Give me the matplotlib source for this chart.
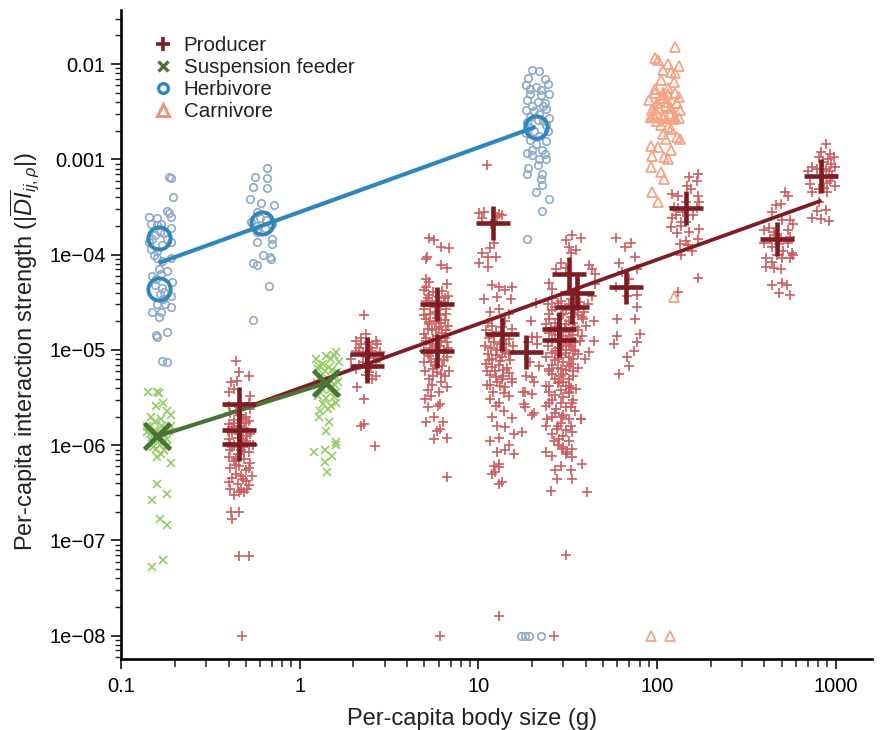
import matplotlib
matplotlib.use('Agg')
from matplotlib import pyplot as plt
from matplotlib.ticker import LogLocator, NullFormatter
from matplotlib.lines import Line2D

plt.rcParams['font.family'] = ['Liberation Sans', 'DejaVu Sans']
plt.rcParams['mathtext.fontset'] = 'custom'
plt.rcParams['mathtext.rm'] = 'Liberation Sans'
plt.rcParams['mathtext.it'] = 'Liberation Sans:italic'

# ---- данные: (масса тела, сила взаимодействия) ----
herb_pts = [
    # x ~ 0.17
    (0.185, 6.5e-4), (0.19, 6.4e-4), (0.196, 4.0e-4), (0.143, 2.5e-4), (0.18, 2.9e-4), (0.185, 2.75e-4),
    (0.19, 2.5e-4), (0.147, 2.1e-4), (0.159, 2.05e-4), (0.167, 2.1e-4), (0.19, 1.9e-4), (0.149, 1.45e-4),
    (0.143, 1.35e-4), (0.18, 1.45e-4), (0.19, 1.35e-4), (0.147, 1.15e-4), (0.153, 1.0e-4), (0.159, 9.3e-5),
    (0.19, 9.3e-5), (0.163, 7.0e-5), (0.167, 6.2e-5), (0.157, 5.5e-5), (0.192, 5.2e-5), (0.173, 4.1e-5),
    (0.19, 3.65e-5), (0.159, 3.0e-5), (0.176, 3.0e-5), (0.19, 2.8e-5), (0.149, 2.5e-5), (0.167, 2.5e-5),
    (0.163, 2.2e-5), (0.159, 1.38e-5), (0.157, 1.45e-5), (0.18, 1.55e-5), (0.169, 7.7e-6), (0.182, 7.5e-6),
    (0.155, 1.6e-4), (0.17, 1.25e-4), (0.165, 1.75e-4), (0.16, 1.1e-4), (0.17, 8.5e-5), (0.155, 4.8e-5),
    (0.17, 4.5e-5), (0.165, 3.9e-5), (0.18, 6.7e-5), (0.15, 6.0e-5), (0.175, 1.7e-4), (0.16, 2.4e-4),
    (0.172, 3.4e-5),
    # x ~ 0.6
    (0.66, 8.2e-4), (0.56, 6.5e-4), (0.66, 6.4e-4), (0.55, 5.1e-4), (0.66, 5.0e-4), (0.53, 3.8e-4),
    (0.61, 3.5e-4), (0.72, 3.3e-4), (0.58, 2.8e-4), (0.535, 2.2e-4), (0.70, 2.1e-4), (0.58, 1.74e-4),
    (0.58, 1.35e-4), (0.70, 1.45e-4), (0.70, 1.3e-4), (0.625, 1.0e-4), (0.68, 9.5e-5), (0.69, 8.9e-5),
    (0.55, 8.2e-5), (0.58, 7.8e-5), (0.67, 4.7e-5), (0.55, 2.05e-5), (0.6, 2.4e-4), (0.64, 1.9e-4),
    (0.57, 2.0e-4), (0.65, 2.3e-4),
    # x ~ 20
    (20.1, 8.6e-3), (22.0, 8.5e-3), (19.0, 7.2e-3), (23.5, 7.0e-3), (18.5, 6.0e-3), (21.0, 5.8e-3),
    (24.5, 6.2e-3), (19.5, 4.9e-3), (22.5, 4.7e-3), (25.0, 4.8e-3), (18.8, 4.2e-3), (21.5, 4.0e-3),
    (23.5, 3.9e-3), (20.0, 3.6e-3), (24.0, 3.4e-3), (18.5, 3.3e-3), (22.0, 3.0e-3), (19.5, 2.8e-3),
    (25.0, 2.7e-3), (18.8, 2.45e-3), (23.0, 2.5e-3), (20.5, 2.0e-3), (24.5, 2.0e-3), (18.5, 1.9e-3),
    (22.0, 1.75e-3), (19.5, 1.6e-3), (24.0, 1.55e-3), (21.0, 1.45e-3), (18.8, 1.18e-3), (20.1, 1.27e-3),
    (22.8, 1.27e-3), (24.0, 1.0e-3), (22.0, 1.0e-3), (18.9, 8.2e-4), (18.8, 7.0e-4), (22.8, 7.0e-4),
    (22.5, 6.2e-4), (22.8, 5.4e-4), (21.1, 4.6e-4), (25.0, 3.8e-4), (22.8, 2.9e-4), (18.8, 1.45e-4),
    (20.5, 3.2e-3), (23.0, 3.6e-3), (19.2, 2.2e-3), (21.5, 2.6e-3), (23.8, 2.3e-3), (20.0, 1.1e-3),
    (21.5, 8.8e-4), (23.5, 1.15e-3), (19.5, 5.5e-3), (22.5, 5.3e-3),
    (17.4, 1e-8), (18.3, 1e-8), (19.3, 1e-8), (22.5, 1e-8),
]

susp_pts = [
    # x ~ 0.16
    (0.141, 3.6e-6), (0.159, 3.6e-6), (0.163, 3.5e-6), (0.172, 2.8e-6), (0.157, 2.55e-6), (0.18, 2.27e-6),
    (0.19, 2.1e-6), (0.147, 2.0e-6), (0.167, 1.87e-6), (0.143, 1.55e-6), (0.19, 1.58e-6), (0.139, 1.37e-6),
    (0.149, 1.21e-6), (0.172, 1.07e-6), (0.18, 0.98e-6), (0.157, 0.91e-6), (0.167, 0.8e-6), (0.19, 0.65e-6),
    (0.159, 0.39e-6), (0.18, 0.31e-6), (0.149, 0.265e-6), (0.165, 0.167e-6), (0.18, 0.145e-6),
    (0.149, 5.3e-8), (0.171, 6.3e-8),
    (0.145, 1.3e-6), (0.155, 1.45e-6), (0.165, 1.35e-6), (0.175, 1.3e-6), (0.15, 1.1e-6), (0.16, 1.15e-6),
    (0.17, 1.2e-6), (0.18, 1.15e-6), (0.152, 0.95e-6), (0.165, 1.0e-6), (0.175, 0.9e-6), (0.16, 0.75e-6),
    (0.14, 1.6e-6), (0.185, 1.4e-6), (0.17, 1.6e-6), (0.155, 1.75e-6),
    # x ~ 1.4
    (1.24, 8.0e-6), (1.41, 8.6e-6), (1.6, 9.5e-6), (1.5, 8.0e-6), (1.29, 6.8e-6), (1.46, 6.6e-6),
    (1.66, 7.5e-6), (1.55, 8.8e-6), (1.35, 7.2e-6), (1.26, 6.3e-6), (1.38, 6.0e-6), (1.52, 6.2e-6),
    (1.62, 5.8e-6), (1.3, 5.2e-6), (1.45, 5.0e-6), (1.58, 5.3e-6), (1.25, 4.5e-6), (1.55, 4.4e-6),
    (1.65, 4.6e-6), (1.33, 3.9e-6), (1.48, 3.8e-6), (1.6, 3.6e-6), (1.27, 3.3e-6), (1.4, 3.1e-6),
    (1.55, 3.2e-6), (1.35, 2.7e-6), (1.5, 2.6e-6), (1.45, 2.4e-6), (1.3, 2.3e-6), (1.6, 2.8e-6),
    (1.29, 2.0e-6), (1.46, 1.74e-6), (1.41, 1.4e-6), (1.6, 1.07e-6), (1.2, 0.84e-6), (1.38, 0.9e-6),
    (1.52, 0.77e-6), (1.6, 1.0e-6), (1.38, 0.66e-6), (1.43, 0.52e-6),
]

prod_pts = [
    # x ~ 0.45
    (0.44, 7.6e-6), (0.458, 5.8e-6), (0.52, 5.3e-6), (0.415, 4.6e-6), (0.445, 4.7e-6), (0.40, 3.6e-6),
    (0.43, 3.9e-6), (0.53, 3.3e-6), (0.52, 2.8e-6), (0.40, 2.6e-6), (0.53, 2.4e-6), (0.41, 2.2e-6),
    (0.47, 2.1e-6), (0.5, 2.0e-6), (0.43, 1.85e-6), (0.52, 1.8e-6), (0.4, 1.65e-6), (0.46, 1.6e-6),
    (0.49, 1.5e-6), (0.42, 1.35e-6), (0.53, 1.3e-6), (0.45, 1.2e-6), (0.4, 1.15e-6), (0.5, 1.1e-6),
    (0.43, 1.0e-6), (0.48, 0.95e-6), (0.41, 0.88e-6), (0.52, 0.85e-6), (0.45, 0.8e-6), (0.4, 0.75e-6),
    (0.49, 0.72e-6), (0.43, 0.68e-6), (0.53, 0.65e-6), (0.46, 0.6e-6), (0.41, 0.57e-6), (0.5, 0.55e-6),
    (0.44, 0.5e-6), (0.54, 0.48e-6), (0.42, 0.45e-6), (0.48, 0.44e-6), (0.40, 0.41e-6), (0.45, 0.39e-6),
    (0.52, 0.38e-6), (0.41, 0.35e-6), (0.47, 0.34e-6), (0.51, 0.35e-6), (0.46, 0.32e-6), (0.49, 0.32e-6),
    (0.415, 0.2e-6), (0.458, 0.2e-6), (0.42, 0.17e-6), (0.46, 6.8e-8), (0.52, 6.8e-8), (0.475, 1e-8),
    (0.44, 2.3e-6), (0.48, 1.9e-6), (0.42, 1.55e-6), (0.51, 1.25e-6), (0.47, 0.9e-6), (0.44, 0.62e-6),
    (0.5, 0.42e-6), (0.455, 2.5e-6), (0.395, 1.4e-6), (0.55, 1.0e-6), (0.47, 0.47e-6), (0.43, 0.3e-6),
    (0.43, 1.7e-6), (0.5, 1.7e-6), (0.46, 1.3e-6), (0.41, 1.05e-6), (0.49, 0.85e-6), (0.44, 0.72e-6),
    (0.52, 0.58e-6), (0.45, 1.45e-6), (0.48, 1.15e-6), (0.42, 0.95e-6),
    # x ~ 2.3
    (2.3, 2.33e-5), (2.36, 1.47e-5), (2.68, 1.24e-5), (2.07, 1.24e-5), (2.21, 1.15e-5), (2.45, 1.2e-5),
    (2.72, 1.15e-5), (2.07, 9.7e-6), (2.25, 9.6e-6), (2.55, 9.7e-6), (2.8, 9.6e-6), (1.95, 8.0e-6),
    (2.25, 7.5e-6), (2.68, 7.5e-6), (2.07, 6.3e-6), (2.45, 5.9e-6), (2.68, 5.3e-6), (2.55, 5.0e-6),
    (2.1, 4.1e-6), (2.3, 3.05e-6), (2.21, 1.58e-6), (2.3, 1.66e-6), (2.65, 0.98e-6), (2.15, 1.05e-5),
    (2.5, 1.05e-5), (2.35, 8.5e-6), (2.6, 8.2e-6), (2.15, 7.0e-6), (2.5, 6.8e-6), (2.35, 5.5e-6),
    (2.2, 1.35e-5),
    # x ~ 6
    (5.3, 1.5e-4), (5.67, 1.44e-4), (6.2, 1.2e-4), (6.88, 1.18e-4), (5.18, 9.5e-5), (5.1, 8.9e-5),
    (6.2, 7.85e-5), (6.7, 7.3e-5), (5.1, 5.5e-5), (5.3, 5.2e-5), (6.7, 4.9e-5), (5.1, 4.6e-5),
    (5.0, 4.3e-5), (5.6, 4.1e-5), (6.3, 4.2e-5), (5.3, 3.8e-5), (6.0, 3.6e-5), (6.8, 3.7e-5),
    (5.1, 3.3e-5), (5.5, 3.1e-5), (6.4, 3.2e-5), (5.8, 2.8e-5), (5.0, 2.7e-5), (6.6, 2.7e-5),
    (5.4, 2.4e-5), (6.1, 2.3e-5), (5.1, 2.1e-5), (5.7, 2.0e-5), (6.5, 2.05e-5), (5.3, 1.85e-5),
    (6.0, 1.75e-5), (6.8, 1.8e-5), (5.5, 1.6e-5), (4.95, 1.47e-5), (5.2, 1.66e-5), (6.3, 1.5e-5),
    (5.1, 1.24e-5), (6.65, 1.2e-5), (5.8, 1.1e-5), (5.3, 8.6e-6), (6.65, 8.4e-6), (5.45, 7.5e-6),
    (6.0, 9.5e-6), (5.05, 6.0e-6), (5.85, 5.9e-6), (6.9, 6.0e-6), (5.3, 5.0e-6), (6.2, 4.6e-6),
    (5.6, 5.3e-6), (6.5, 5.3e-6), (5.05, 3.05e-6), (5.45, 3.3e-6), (6.65, 4.1e-6), (5.2, 2.5e-6),
    (5.95, 2.6e-6), (6.1, 2.7e-6), (5.67, 2.0e-6), (6.35, 1.74e-6), (5.1, 1.74e-6), (5.85, 1.4e-6),
    (6.1, 1.47e-6), (5.67, 1.15e-6), (6.7, 1.2e-6), (6.65, 0.46e-6), (6.1, 1e-8),
    (5.6, 1.3e-5), (6.2, 1.25e-5), (5.4, 1.05e-5), (6.4, 1.0e-5), (5.0, 9.8e-6), (6.8, 1.05e-5),
    (5.7, 7.0e-6), (6.3, 6.8e-6), (5.2, 3.8e-6), (6.0, 3.6e-6), (5.5, 4.3e-6),
    (5.2, 3.5e-5), (5.9, 3.3e-5), (6.5, 3.5e-5), (5.4, 2.9e-5), (6.2, 2.9e-5), (5.7, 2.5e-5),
    (6.6, 2.4e-5), (5.0, 2.3e-5), (5.9, 2.15e-5), (5.3, 1.95e-5), (6.2, 1.9e-5), (5.8, 1.65e-5),
    (6.6, 1.6e-5), (5.1, 1.35e-5), (5.9, 1.4e-5), (6.5, 1.35e-5), (5.5, 1.15e-5), (6.1, 1.1e-5),
    (5.2, 9.0e-6), (5.9, 8.0e-6), (6.4, 7.8e-6), (5.0, 7.5e-6), (5.6, 6.3e-6), (6.2, 5.6e-6),
    # x ~ 12
    (11.2, 8.7e-4), (10.1, 2.75e-4), (10.8, 2.8e-4), (13.1, 2.7e-4), (13.6, 2.6e-4), (10.5, 2.45e-4),
    (12.8, 2.5e-4), (11.8, 2.1e-4), (12.3, 1.34e-4), (11.7, 1.18e-4), (10.5, 1.05e-4), (11.4, 9.5e-5),
    (12.6, 9.5e-5), (10.1, 8.2e-5), (11.4, 7.4e-5),
    (12.0, 4.8e-5), (13.1, 4.6e-5), (15.4, 4.6e-5), (14.2, 4.3e-5), (10.8, 3.4e-5), (12.8, 3.6e-5),
    (15.2, 3.4e-5), (11.7, 2.5e-5), (13.1, 2.7e-5), (14.8, 2.4e-5), (12.0, 1.8e-5), (14.2, 2.0e-5),
    (15.4, 1.66e-5), (11.0, 1.6e-5), (12.5, 1.55e-5), (13.8, 1.45e-5), (11.5, 1.35e-5), (14.8, 1.3e-5),
    (12.2, 1.2e-5), (13.3, 1.15e-5), (10.9, 1.1e-5), (15.6, 1.1e-5), (12.8, 1.0e-5), (14.2, 9.5e-6),
    (11.4, 9.0e-6), (13.5, 8.5e-6), (12.0, 8.0e-6), (15.0, 7.8e-6), (11.0, 7.2e-6), (13.0, 7.0e-6),
    (14.5, 6.5e-6), (12.4, 6.0e-6), (11.6, 5.5e-6), (13.8, 5.3e-6), (15.5, 5.0e-6), (12.8, 4.6e-6),
    (11.2, 4.3e-6), (14.2, 4.1e-6), (11.7, 4.3e-6), (13.6, 5.0e-6), (15.4, 4.6e-6), (11.7, 3.05e-6),
    (13.1, 2.8e-6), (14.8, 3.3e-6), (12.0, 2.0e-6), (15.4, 1.95e-6), (12.7, 1.6e-6), (14.2, 1.55e-6),
    (11.7, 1.1e-6), (13.1, 1.2e-6), (14.8, 1.0e-6), (15.8, 1.3e-6), (12.7, 0.84e-6), (14.2, 0.9e-6),
    (15.8, 0.8e-6), (12.3, 0.6e-6), (13.1, 0.63e-6), (13.1, 0.59e-6), (12.4, 0.52e-6), (12.0, 0.5e-6),
    (13.1, 0.39e-6), (13.6, 0.41e-6), (13.1, 1.6e-8),
    (11.3, 1.9e-5), (13.5, 1.75e-5), (12.3, 1.4e-5), (14.3, 1.15e-5), (11.8, 1.05e-5), (13.8, 1.0e-5),
    (12.5, 8.8e-6), (14.8, 9.0e-6), (11.5, 7.8e-6), (13.2, 7.6e-6), (12.0, 6.6e-6), (13.8, 6.2e-6),
    (11.2, 6.0e-6), (14.8, 5.7e-6), (12.5, 5.2e-6), (13.3, 4.2e-6), (12.1, 3.6e-6), (14.0, 3.5e-6),
    (12.6, 2.6e-6), (14.0, 2.3e-6),
    # x ~ 18-45
    (19.8, 2.0e-5), (21.2, 1.37e-5), (18.2, 2.5e-6), (20.0, 2.1e-6), (20.0, 5.2e-6), (18.2, 3.6e-6),
    (17.6, 1.37e-6), (37.7, 1.9e-6),
    (33.6, 1.62e-4), (37.8, 1.5e-4), (31.1, 1.44e-4), (32.3, 1.2e-4), (35.3, 1.13e-4), (33.0, 1.05e-4),
    (29.2, 8.2e-5), (41.5, 7.8e-5), (43.5, 7.0e-5), (27.2, 7.0e-5), (31.1, 7.3e-5), (45.3, 6.2e-5),
    (24.8, 5.1e-5), (25.8, 4.4e-5), (45.3, 4.9e-5), (43.5, 3.65e-5), (21.1, 3.1e-5), (24.8, 2.1e-5),
    (44.4, 2.0e-5), (38.5, 2.1e-5),
    (26, 3.5e-5), (29, 3.3e-5), (33, 3.4e-5), (37, 3.2e-5), (41, 3.0e-5), (27, 2.8e-5), (31, 2.6e-5),
    (35, 2.7e-5), (39, 2.5e-5), (25, 2.4e-5), (29, 2.3e-5), (33, 2.2e-5), (36, 2.3e-5), (27, 1.9e-5),
    (31, 1.85e-5), (34, 1.9e-5), (40, 1.8e-5), (25.5, 1.7e-5), (29, 1.6e-5), (32, 1.55e-5), (36, 1.6e-5),
    (27, 1.45e-5), (30, 1.4e-5), (33, 1.35e-5), (38, 1.4e-5), (26, 1.25e-5), (29, 1.2e-5), (32, 1.15e-5),
    (35, 1.2e-5), (28, 1.05e-5), (31, 1.0e-5), (34, 1.0e-5), (26, 9.2e-6), (29, 8.8e-6), (32, 8.5e-6),
    (36, 9.0e-6), (27, 7.8e-6), (30, 7.5e-6), (33, 7.2e-6), (28, 6.5e-6), (31, 6.2e-6), (34, 6.0e-6),
    (26, 5.6e-6), (29, 5.3e-6), (32, 5.0e-6), (28, 4.5e-6), (31, 4.2e-6), (33, 4.0e-6),
    (20.1, 1.37e-5), (18.9, 1.2e-5), (21.3, 1.15e-5), (44.4, 1.24e-5), (41.8, 9.5e-6), (39.4, 8.0e-6),
    (19.4, 7.5e-6), (22.0, 6.8e-6), (24.9, 6.3e-6), (18.6, 5.3e-6), (20.5, 4.6e-6), (23.8, 4.2e-6),
    (28.4, 4.6e-6), (32.3, 4.2e-6), (17.7, 3.6e-6), (20.1, 3.45e-6), (24.9, 3.6e-6), (32.3, 3.6e-6),
    (35.3, 3.9e-6), (18.1, 2.7e-6), (20.5, 2.2e-6), (24.9, 2.8e-6), (27.2, 2.4e-6), (33.6, 2.8e-6),
    (24.3, 1.87e-6), (29.4, 2.0e-6), (37.8, 1.87e-6), (23.9, 1.58e-6), (27.7, 1.47e-6), (33.0, 1.58e-6),
    (33.6, 1.37e-6), (28.4, 1.15e-6), (32.3, 1.1e-6), (29.5, 0.91e-6), (33.6, 0.91e-6), (23.9, 0.85e-6),
    (25.9, 0.77e-6), (31.2, 0.85e-6), (33.6, 0.75e-6), (38.2, 0.63e-6), (27.7, 0.44e-6), (33.6, 0.44e-6),
    (25.5, 0.33e-6), (40.6, 0.32e-6), (31.1, 7e-8), (26.4, 1e-8),
    (26, 3.0e-6), (30, 3.2e-6), (34, 3.0e-6), (27, 2.2e-6), (31, 2.5e-6), (35, 2.3e-6), (29, 1.7e-6),
    (32, 1.9e-6), (26, 1.3e-6), (30, 1.25e-6), (28, 1.0e-6), (31, 0.8e-6), (29, 0.6e-6), (27, 0.55e-6),
    (33, 0.55e-6),
    (24.5, 3.0e-5), (28, 3.1e-5), (32, 3.0e-5), (36, 2.9e-5), (26, 2.6e-5), (30, 2.4e-5), (34, 2.45e-5),
    (38, 2.2e-5), (28, 2.1e-5), (32, 2.0e-5), (24, 1.85e-5), (27.5, 1.75e-5), (35, 1.75e-5), (30.5, 1.7e-5),
    (25, 1.5e-5), (34, 1.45e-5), (28, 1.3e-5), (31, 1.3e-5), (37, 1.25e-5), (24.5, 1.1e-5), (30, 1.1e-5),
    (33, 1.1e-5), (27, 9.8e-6), (35, 9.8e-6), (24, 8.5e-6), (31, 9.2e-6), (28, 8.2e-6), (34, 8.0e-6),
    (26, 7.0e-6), (32, 6.8e-6), (29, 6.3e-6), (36, 6.5e-6), (25, 6.0e-6), (30, 5.6e-6), (34, 5.3e-6),
    (27, 5.0e-6), (30, 4.6e-6), (25, 4.2e-6), (29, 3.8e-6), (32, 3.5e-6), (27, 3.4e-6), (24, 2.6e-6),
    (29, 2.8e-6), (33, 2.5e-6), (26, 2.0e-6), (30, 2.1e-6), (28, 1.6e-6), (31, 1.45e-6), (26.5, 1.1e-6),
    (30, 0.95e-6),
    # x ~ 65
    (59.3, 1.5e-4), (72, 1.34e-4), (75, 9.5e-5), (61.6, 8.2e-5), (77.5, 7.0e-5), (59.3, 4.6e-5),
    (68, 3.65e-5), (77, 3.8e-5), (77.5, 2.8e-5), (60, 2.1e-5), (75, 2.1e-5), (80.4, 1.47e-5),
    (60, 1.4e-5), (57.8, 1.15e-5), (77.5, 1.2e-5), (74, 9.8e-6), (68, 8.4e-6), (70, 6.8e-6),
    (61.6, 5.6e-6), (66, 1.2e-4), (70, 5.5e-5), (64, 6.5e-5),
    # x ~ 140
    (152, 6.6e-4), (169, 7.0e-4), (167, 5.9e-4), (148, 5.2e-4), (155, 4.85e-4), (122, 4.3e-4),
    (132, 4.1e-4), (169, 4.1e-4), (173, 3.55e-4), (125, 3.2e-4), (132, 3.1e-4), (167, 3.1e-4),
    (122, 2.4e-4), (136, 2.2e-4), (146, 2.2e-4), (173, 1.85e-4), (120, 1.95e-4), (136, 2.0e-4),
    (129, 1.7e-4), (152, 1.75e-4), (145, 1.4e-4), (169, 1.45e-4), (136, 1.0e-4), (158, 1.1e-4),
    (169, 5.7e-5), (132, 4.1e-5), (140, 2.8e-4), (128, 2.6e-4), (160, 2.6e-4), (145, 3.6e-4),
    (135, 1.3e-4), (150, 1.25e-4),
    # x ~ 470
    (518, 4.5e-4), (540, 4.1e-4), (466, 3.3e-4), (497, 3.4e-4), (440, 2.8e-4), (503, 2.3e-4),
    (555, 2.3e-4), (577, 2.1e-4), (400, 1.83e-4), (424, 1.92e-4), (540, 1.83e-4), (555, 1.55e-4),
    (400, 1.34e-4), (440, 1.21e-4), (540, 1.34e-4), (570, 1.05e-4), (555, 9.3e-5), (408, 9.3e-5),
    (440, 8.4e-5), (503, 9.3e-5), (577, 1.0e-4), (408, 7.5e-5), (452, 7.3e-5), (497, 7.0e-5),
    (440, 4.85e-5), (503, 5.1e-5), (532, 4.85e-5), (484, 4.0e-5), (555, 3.8e-5), (460, 1.6e-4),
    (480, 1.3e-4), (430, 1.45e-4), (510, 1.1e-4), (470, 1.0e-4), (450, 1.75e-4), (495, 1.5e-4),
    # x ~ 850
    (889, 1.44e-3), (806, 1.05e-3), (937, 1.13e-3), (975, 1.07e-3), (735, 8.4e-4), (847, 9.5e-4),
    (949, 8.9e-4), (987, 8.4e-4), (700, 7.5e-4), (787, 7.85e-4), (925, 7.5e-4), (717, 5.5e-4),
    (900, 5.7e-4), (987, 5.2e-4), (735, 4.6e-4), (806, 4.85e-4), (900, 4.5e-4), (806, 3.6e-4),
    (880, 2.97e-4), (787, 2.85e-4), (735, 2.45e-4), (825, 2.35e-4), (925, 2.23e-4), (850, 6.5e-4),
    (880, 8.0e-4), (930, 6.0e-4), (860, 5.0e-4), (950, 6.8e-4), (830, 1.2e-3), (910, 1.0e-3),
]

carn_pts = [
    (125.5, 1.5e-2), (97, 1.16e-2), (101.5, 1.1e-2), (116, 1.0e-2), (133, 9.5e-3), (108, 8.6e-3),
    (120, 8.2e-3), (125.5, 8.0e-3), (105, 6.8e-3), (124, 6.5e-3), (116, 5.6e-3), (97, 4.96e-3),
    (110, 4.7e-3), (125.5, 5.0e-3), (133, 4.5e-3), (90.8, 4.2e-3), (100, 3.9e-3), (113, 4.0e-3),
    (129, 3.9e-3), (94.2, 3.3e-3), (135, 3.3e-3), (93, 2.8e-3), (108, 2.7e-3), (124, 2.63e-3),
    (133, 2.7e-3), (100, 2.5e-3), (116, 2.17e-3), (120, 2.07e-3), (108, 1.83e-3), (129, 1.7e-3),
    (113, 1.62e-3), (135, 1.62e-3), (93, 1.37e-3), (101.5, 1.34e-3), (120, 1.27e-3), (94.2, 1.08e-3),
    (110, 1.05e-3), (116, 1.02e-3), (93, 8.4e-4), (105, 7.3e-4), (110, 6.2e-4), (94.2, 4.5e-4),
    (101.5, 3.6e-4), (124, 3.6e-5), (93, 1e-8), (118, 1e-8),
    (105, 4.4e-3), (112, 3.6e-3), (100, 3.0e-3), (118, 3.0e-3), (106, 2.3e-3), (98, 5.5e-3),
    (120, 3.5e-3), (110, 2.9e-3), (103, 3.5e-3), (115, 4.8e-3),
]

# средние значения по группам
prod_mean_x = [0.458, 0.458, 0.458, 2.39, 2.39, 5.85, 5.85, 12.1, 13.6, 18.6,
               32.3, 35.9, 33.6, 28.4, 28.4, 67.5, 146, 473, 824]
prod_mean_y = [2.7e-6, 1.44e-6, 1.02e-6, 9.1e-6, 6.8e-6, 3.06e-5, 9.8e-6, 2.17e-4, 1.47e-5, 9.5e-6,
               6.2e-5, 4.0e-5, 2.8e-5, 1.66e-5, 1.27e-5, 4.6e-5, 3.06e-4, 1.47e-4, 6.7e-4]
susp_mean_x = [0.159, 1.41]
susp_mean_y = [1.24e-6, 4.5e-6]
herb_mean_x = [0.163, 0.163, 0.616, 21]
herb_mean_y = [1.5e-4, 4.4e-5, 2.17e-4, 2.2e-3]
carn_mean_x = [108]
carn_mean_y = [3.6e-3]

# линии регрессии
prod_line_x = [0.46, 835]
prod_line_y = [2.35e-6, 3.7e-4]
susp_line_x = [0.159, 1.41]
susp_line_y = [1.24e-6, 4.5e-6]
herb_line_x = [0.163, 21]
herb_line_y = [8.2e-5, 2.2e-3]

# цвета
c_prod, c_prod_d = '#cc5f61', '#7d1c22'
c_susp, c_susp_d = '#93cc66', '#4a7338'
c_herb, c_herb_d = '#8eaac9', '#2f86bd'
c_carn, c_carn_d = '#f4a485', '#ee967a'

fig = plt.figure(figsize=(8.82, 7.3), dpi=100)
ax = fig.add_axes([121 / 882, 71 / 730, 751 / 882, 649 / 730])
ax.set_xscale('log')
ax.set_yscale('log')


def scatter(pts, marker, color, ms, mew):
    xs = [p[0] for p in pts]
    ys = [p[1] for p in pts]
    ax.plot(xs, ys, linestyle='none', marker=marker, ms=ms, mew=mew,
            color=color, mfc='none', zorder=2)


scatter(prod_pts, '+', c_prod, 7.8, 1.2)
scatter(susp_pts, 'x', c_susp, 6.0, 1.2)
scatter(herb_pts, 'o', c_herb, 5.4, 1.2)
scatter(carn_pts, '^', c_carn, 7.5, 1.3)

ax.plot(prod_line_x, prod_line_y, color=c_prod_d, lw=2.7, zorder=3, solid_capstyle='butt')
ax.plot(susp_line_x, susp_line_y, color=c_susp_d, lw=3, zorder=3, solid_capstyle='butt')
ax.plot(herb_line_x, herb_line_y, color=c_herb_d, lw=3, zorder=3, solid_capstyle='butt')

ax.plot(prod_mean_x, prod_mean_y, linestyle='none', marker='+', ms=25, mew=3.3, color=c_prod_d, zorder=4)
ax.plot(susp_mean_x, susp_mean_y, linestyle='none', marker='x', ms=19, mew=3.5, color=c_susp_d, zorder=4)
ax.plot(herb_mean_x, herb_mean_y, linestyle='none', marker='o', ms=16, mew=2.8, color=c_herb_d,
        mfc='none', zorder=4)
ax.plot(carn_mean_x, carn_mean_y, linestyle='none', marker='^', ms=22, mew=3.2, color=c_carn,
        mfc='none', alpha=0.9, zorder=4)

ax.set_xlim(0.1, 1600)
ax.set_ylim(5.7e-9, 0.037)

# оси и подписи
for side in ['top', 'right']:
    ax.spines[side].set_visible(False)
for side in ['left', 'bottom']:
    ax.spines[side].set_linewidth(1.9)

ax.set_xticks([0.1, 1, 10, 100, 1000])
ax.set_xticklabels(['0.1', '1', '10', '100', '1000'])
ax.set_yticks([1e-8, 1e-7, 1e-6, 1e-5, 1e-4, 1e-3, 1e-2])
ax.set_yticklabels(['1e\u221208', '1e\u221207', '1e\u221206', '1e\u221205', '1e\u221204', '0.001', '0.01'])
ax.xaxis.set_minor_locator(LogLocator(base=10, subs=range(2, 10), numticks=20))
ax.yaxis.set_minor_locator(LogLocator(base=10, subs=range(2, 10), numticks=20))
ax.xaxis.set_minor_formatter(NullFormatter())
ax.yaxis.set_minor_formatter(NullFormatter())
ax.tick_params(axis='both', which='major', direction='out', length=7, width=1.3,
               labelsize=14.5, color='#222222')
ax.tick_params(axis='x', which='minor', direction='out', length=5.5, width=1.1, color='#222222')
ax.tick_params(axis='y', which='minor', direction='out', length=4, width=1.0, color='#222222')
ax.tick_params(axis='y', which='major', pad=4)
ax.tick_params(axis='x', which='major', pad=6)

ax.set_xlabel('Per-capita body size (g)', fontsize=17, color='#222222')
ax.set_ylabel(r'Per-capita interaction strength ($|\overline{DI}_{ij,\rho}|$)',
              fontsize=17, color='#222222')
ax.xaxis.set_label_coords(0.467, -0.075)
ax.yaxis.set_label_coords(-0.105, 0.474)

# легенда
handles = [
    Line2D([], [], linestyle='none', marker='+', ms=10, mew=2.6, color=c_prod_d),
    Line2D([], [], linestyle='none', marker='x', ms=7.5, mew=2.4, color=c_susp_d),
    Line2D([], [], linestyle='none', marker='o', ms=7, mew=2.4, color=c_herb_d, mfc='none'),
    Line2D([], [], linestyle='none', marker='^', ms=8.5, mew=2.2, color=c_carn_d, mfc='none'),
]
labels = ['Producer', 'Suspension feeder', 'Herbivore', 'Carnivore']
ax.legend(handles, labels, loc='upper left', bbox_to_anchor=(0.0426, 0.96), frameon=False,
          fontsize=14.8, borderpad=0, borderaxespad=0, handlelength=1.0, handletextpad=0.5,
          labelspacing=0.15, labelcolor='#222222')

fig.savefig('out.png', dpi=100)
